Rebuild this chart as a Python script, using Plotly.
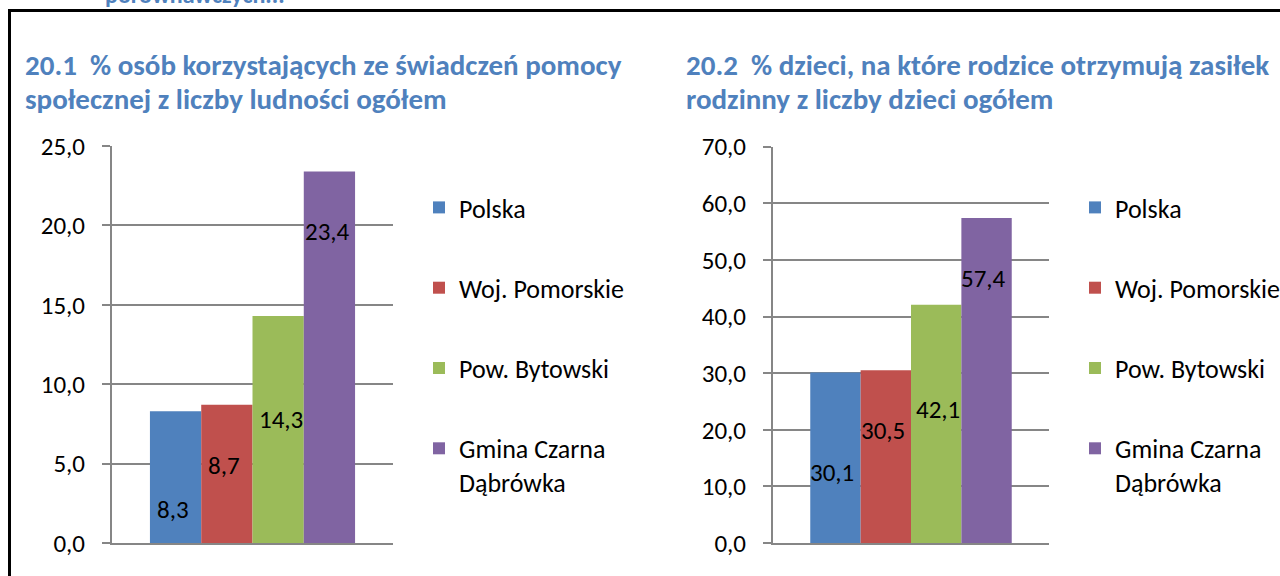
import plotly.graph_objects as go

# ---------------- data ----------------
series_names = ["Polska", "Woj. Pomorskie", "Pow. Bytowski", "Gmina Czarna Dąbrówka"]
values_20_1 = [8.3, 8.7, 14.3, 23.4]
values_20_2 = [30.1, 30.5, 42.1, 57.4]
yticks_20_1 = [0, 5, 10, 15, 20, 25]
yticks_20_2 = [0, 10, 20, 30, 40, 50, 60, 70]
title_20_1 = ["20.1\u00a0\u00a0% osób korzystających ze świadczeń pomocy",
              "społecznej z liczby ludności ogółem"]
title_20_2 = ["20.2\u00a0\u00a0% dzieci, na które rodzice otrzymują zasiłek",
              "rodzinny z liczby dzieci ogółem"]
heading_cut = "porównawczych..."

# ---------------- styling ----------------
W, H = 1280, 576
colors = ["#4F81BD", "#C0504D", "#9BBB59", "#8064A2"]
title_color = "#4F81BD"
grid_color = "#868686"
FONT = "Carlito, Calibri, Lato, sans-serif"
TICK_SIZE = 25
LEGEND_SIZE = 26
TITLE_SIZE = 29
# manual label placement (as in the original document), in axis units
label_y_20_1 = [2.1, 4.9, 7.75, 19.6]
label_y_20_2 = [12.5, 19.9, 23.5, 46.8]
label_dx_20_1 = [-3, -3, 3, -2]
label_dx_20_2 = [-3, -3, 2, -3]
BARGAP = 0.27


def px(x):
    return x / W


def py(y):
    return 1 - y / H


def legend_name(n):
    return n.replace("Czarna ", "Czarna<br>")


fig = go.Figure()

for i, name in enumerate(series_names):
    fig.add_trace(go.Bar(
        x=[0], y=[values_20_1[i]], name=legend_name(name),
        marker=dict(color=colors[i], line=dict(width=0)),
        xaxis="x", yaxis="y", legend="legend", legendgroup=f"a{i}",
        hoverinfo="y",
    ))
for i, name in enumerate(series_names):
    fig.add_trace(go.Bar(
        x=[0], y=[values_20_2[i]], name=legend_name(name),
        marker=dict(color=colors[i], line=dict(width=0)),
        xaxis="x2", yaxis="y2", legend="legend2", legendgroup=f"b{i}",
        hoverinfo="y",
    ))

annotations = []
group_w = 1 - BARGAP
for i in range(4):
    xc = -group_w / 2 + (i + 0.5) * group_w / 4
    annotations.append(dict(
        x=xc, y=label_y_20_1[i], xref="x", yref="y", xshift=label_dx_20_1[i],
        text=f"{values_20_1[i]:.1f}".replace(".", ","), showarrow=False,
        font=dict(family=FONT, size=TICK_SIZE, color="#000000")))
    annotations.append(dict(
        x=xc, y=label_y_20_2[i], xref="x2", yref="y2", xshift=label_dx_20_2[i],
        text=f"{values_20_2[i]:.1f}".replace(".", ","), showarrow=False,
        font=dict(family=FONT, size=TICK_SIZE, color="#000000")))

for lines, x0 in [(title_20_1, 23), (title_20_2, 684)]:
    for line, yc in zip(lines, [65, 99]):
        annotations.append(dict(
            x=px(x0), y=py(yc), xref="paper", yref="paper", xanchor="left",
            yanchor="middle", align="left", showarrow=False, text=f"<b>{line}</b>",
            font=dict(family=FONT, size=TITLE_SIZE, color=title_color)))

annotations.append(dict(
    x=px(103), y=py(-5), xref="paper", yref="paper", xanchor="left",
    yanchor="middle", showarrow=False, text=f"<b>{heading_cut}</b>",
    font=dict(family=FONT, size=24, color=title_color)))

axis_common_x = dict(range=[-0.5, 0.5], showticklabels=False, showgrid=False,
                     zeroline=False, showline=True, linecolor=grid_color,
                     linewidth=2, ticks="", fixedrange=True, automargin=False)
axis_common_y = dict(showgrid=True, gridcolor=grid_color, gridwidth=1.5,
                     zeroline=False, showline=True, linecolor=grid_color,
                     linewidth=2, ticks="outside", ticklen=8, tickwidth=1.5,
                     tickcolor=grid_color, tickformat=".1f",
                     ticklabelstandoff=12, automargin=False,
                     tickfont=dict(family=FONT, size=TICK_SIZE, color="#000000"),
                     fixedrange=True)

legend_common = dict(
    xanchor="left", yanchor="top", traceorder="grouped", tracegroupgap=43.5,
    valign="top", bgcolor="rgba(0,0,0,0)", borderwidth=0,
    font=dict(family=FONT, size=LEGEND_SIZE, color="#000000"),
)

fig.update_layout(
    width=W, height=H, autosize=False,
    margin=dict(l=0, r=0, t=0, b=0, pad=0, autoexpand=False),
    paper_bgcolor="white", plot_bgcolor="white",
    separators=", ",
    barmode="group", bargap=BARGAP, bargroupgap=0,
    showlegend=True,
    xaxis=dict(domain=[px(112), px(393)], anchor="y", **axis_common_x),
    yaxis=dict(domain=[py(543), py(146)], anchor="x", range=[0, 25],
               tickvals=yticks_20_1, **axis_common_y),
    xaxis2=dict(domain=[px(773), px(1049)], anchor="y2", **axis_common_x),
    yaxis2=dict(domain=[py(543), py(146.7)], anchor="x2", range=[0, 70],
                tickvals=yticks_20_2, **axis_common_y),
    legend=dict(x=px(419), y=py(184), **legend_common),
    legend2=dict(x=px(1075), y=py(184), **legend_common),
    annotations=annotations,
    shapes=[
        dict(type="line", xref="paper", yref="paper", x0=px(8), x1=1,
             y0=py(10.5), y1=py(10.5), line=dict(color="black", width=3)),
        dict(type="line", xref="paper", yref="paper", x0=px(9.5), x1=px(9.5),
             y0=py(9), y1=0, line=dict(color="black", width=3)),
    ],
)

fig.write_html("out.html", config={"displayModeBar": False},
               post_script="document.body.style.margin='0';")
